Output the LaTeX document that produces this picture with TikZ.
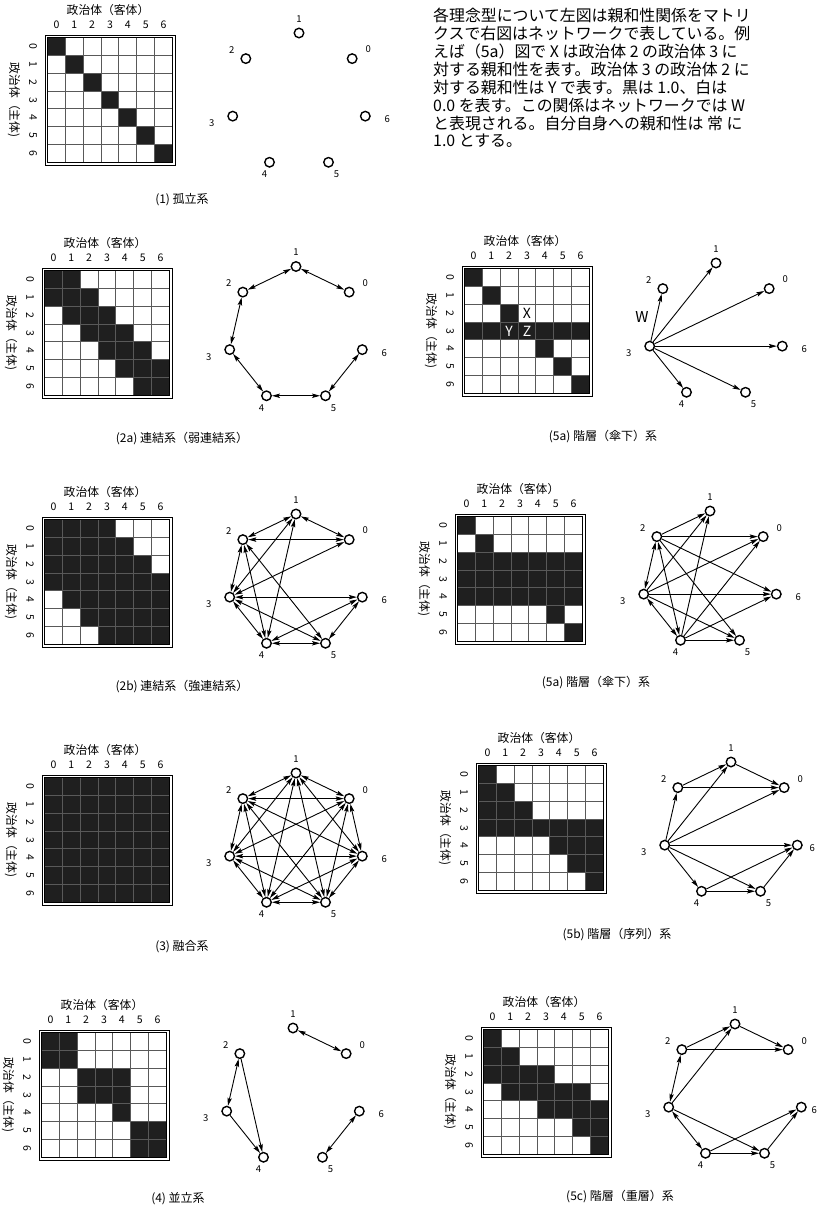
\documentclass[tikz,border=0pt]{standalone}
\usepackage{fontspec}
\setmainfont{Noto Sans CJK JP}
\usetikzlibrary{arrows.meta,calc}
\tikzset{
  vtx/.style={circle,draw,line width=1.4pt,fill=white,minimum size=9.5pt,inner sep=0pt},
  lbl/.style={font=\fontsize{9.5}{11}\selectfont,inner sep=0pt},
  digit/.style={font=\fontsize{10.5}{12}\selectfont,inner sep=0pt},
  mtitle/.style={font=\fontsize{11.8}{13}\selectfont,inner sep=0pt},
  capt/.style={font=\fontsize{12}{14}\selectfont,inner sep=0pt},
  para/.style={font=\fontsize{15.9}{18}\selectfont,inner sep=0pt,anchor=west},
  uni/.style={line width=0.9pt,-{Stealth[length=8pt,width=4.4pt,inset=1.5pt]}},
  bi/.style={line width=0.9pt,{Stealth[length=8pt,width=4.4pt,inset=1.5pt]}-{Stealth[length=8pt,width=4.4pt,inset=1.5pt]}},
  gridline/.style={draw=black!65,line width=1.1pt},
}
\newcommand\affmat[4]{%
  \foreach \rowlist [count=\r from 0] in {#4} {
    \foreach \v [count=\c from 0] in \rowlist {
      \ifnum\v=1
        \fill[black!88] ({#2+2.5+\c*17.857},{#3+2.5+\r*17.857}) rectangle ++(17.857,17.857);
      \fi
    }
  }
  \foreach \i in {1,...,6} {
    \draw[gridline] ({#2+2.5+\i*17.857},{#3+2.5}) -- ++(0,125);
    \draw[gridline] ({#2+2.5},{#3+2.5+\i*17.857}) -- ++(125,0);
  }
  \draw[line width=1.2pt] ({#2+2.5},{#3+2.5}) rectangle ++(125,125);
  \draw[line width=0.7pt] (#2,#3) rectangle ++(130,130);
  \foreach \k in {0,...,6} {
    \node[digit] (#1c\k) at ({#2+2.5+(\k+0.5)*17.857},{#3-10}) {\k};
    \node[digit,rotate=-90] (#1r\k) at ({#2-12},{#3+2.5+(\k+0.5)*17.857}) {\k};
  }
  \node[mtitle] (#1t) at ({#2+63},{#3-25}) {政治体（客体）};
  \node[mtitle,rotate=-90] (#1v) at ({#2-31},{#3+65}) {政治体（主体)};
}
% #1 = x offset of label 6 (optional), #2 prefix, #3 cx, #4 cy, #5 R
\newcommand\hept[5][22]{%
  \foreach \k/\a/\dx/\dy in {1/90/0/-14, 0/38.571/16/-9, 6/-12.857/#1/3, 5/-64.286/8/12, 4/-115.714/-5/12, 3/-167.143/-21/7, 2/141.429/-14/-9} {
    \node[vtx] (#2\k) at ({#3+#5*cos(\a)},{#4-#5*sin(\a)}) {};
    \node[lbl] (#2l\k) at ({#3+#5*cos(\a)+\dx},{#4-#5*sin(\a)+\dy}) {\k};
  }
}
\begin{document}
\begin{tikzpicture}[x=1pt,y=-1pt]
\useasboundingbox (0,0) rectangle (821,1210);
\fill[white] (0,0) rectangle (821,1210);

% ---- text block
\node[para] (t1) at (433,15) {各理念型について左図は親和性関係をマトリ};
\node[para] (t2) at (433,33) {クスで右図はネットワークで表している。例};
\node[para] (t3) at (433,51) {えば（5a）図で X は政治体 2 の政治体 3 に};
\node[para] (t4) at (433,69) {対する親和性を表す。政治体 3 の政治体 2 に};
\node[para] (t5) at (433,87) {対する親和性は Y で表す。黒は 1.0、白は};
\node[para] (t6) at (433,105) {0.0 を表す。この関係はネットワークでは W};
\node[para] (t7) at (433,123) {と表現される。自分自身への親和性は 常 に};
\node[para] (t8) at (433,141) {1.0 とする。};

% ---- (1)
\affmat{am}{45}{35}{{1,0,0,0,0,0,0},{0,1,0,0,0,0,0},{0,0,1,0,0,0,0},{0,0,0,1,0,0,0},{0,0,0,0,1,0,0},{0,0,0,0,0,1,0},{0,0,0,0,0,0,1}}
\hept{a}{299}{101}{68}
\node[capt] (ac) at (182,200) {(1) 孤立系};

% ---- (2a)
\affmat{bm}{42}{268}{{1,1,0,0,0,0,0},{1,1,1,0,0,0,0},{0,1,1,1,0,0,0},{0,0,1,1,1,0,0},{0,0,0,1,1,1,0},{0,0,0,0,1,1,1},{0,0,0,0,0,1,1}}
\hept{b}{296}{334.5}{68}
\foreach \i/\j in {0/1,1/2,2/3,3/4,4/5,5/6} \draw[bi] (b\i) -- (b\j);
\node[capt] (bc) at (182,439) {(2a) 連結系（弱連結系）};

% ---- (5a) top
\affmat{cm}{462}{266}{{1,0,0,0,0,0,0},{0,1,0,0,0,0,0},{0,0,1,0,0,0,0},{1,1,1,1,1,1,1},{0,0,0,0,1,0,0},{0,0,0,0,0,1,0},{0,0,0,0,0,0,1}}
\node[font=\fontsize{14}{15}\selectfont,inner sep=0pt] (cx) at ({464.5+3.5*17.857},{268.5+2.5*17.857}) {X};
\node[font=\fontsize{14}{15}\selectfont,inner sep=0pt,text=white] (cy) at ({464.5+2.5*17.857},{268.5+3.5*17.857}) {Y};
\node[font=\fontsize{14}{15}\selectfont,inner sep=0pt,text=white] (cz) at ({464.5+3.5*17.857},{268.5+3.5*17.857}) {Z};
\hept{c}{716}{331}{68}
\foreach \j in {0,1,2,4,5,6} \draw[uni] (c3) -- (c\j);
\node[font=\fontsize{15}{16}\selectfont,inner sep=0pt] (cw) at (642,317) {W};
\node[capt] (cc) at (603,437) {(5a) 階層（傘下）系};

% ---- (2b)
\affmat{dm}{42}{517}{{1,1,1,1,0,0,0},{1,1,1,1,1,0,0},{1,1,1,1,1,1,0},{1,1,1,1,1,1,1},{0,1,1,1,1,1,1},{0,0,1,1,1,1,1},{0,0,0,1,1,1,1}}
\hept{d}{296}{582}{68}
\foreach \i/\j in {0/1,0/2,0/3,1/2,1/3,1/4,2/3,2/4,2/5,3/4,3/5,3/6,4/5,4/6,5/6} \draw[bi] (d\i) -- (d\j);
\node[capt] (dc) at (182,687) {(2b) 連結系（強連結系）};

% ---- (5a) second
\affmat{em}{455}{514}{{1,0,0,0,0,0,0},{0,1,0,0,0,0,0},{1,1,1,1,1,1,1},{1,1,1,1,1,1,1},{1,1,1,1,1,1,1},{0,0,0,0,0,1,0},{0,0,0,0,0,0,1}}
\hept{e}{710}{579}{68}
\foreach \i/\j in {2/3,2/4,3/4} \draw[bi] (e\i) -- (e\j);
\foreach \i/\j in {2/0,2/1,2/5,2/6,3/0,3/1,3/5,3/6,4/0,4/1,4/5,4/6} \draw[uni] (e\i) -- (e\j);
\node[capt] (ec) at (596,683) {(5a) 階層（傘下）系};

% ---- (3)
\affmat{fm}{42}{775}{{1,1,1,1,1,1,1},{1,1,1,1,1,1,1},{1,1,1,1,1,1,1},{1,1,1,1,1,1,1},{1,1,1,1,1,1,1},{1,1,1,1,1,1,1},{1,1,1,1,1,1,1}}
\hept{f}{296}{841}{68}
\foreach \i/\j in {0/1,0/2,0/3,0/4,0/5,0/6,1/2,1/3,1/4,1/5,1/6,2/3,2/4,2/5,2/6,3/4,3/5,3/6,4/5,4/6,5/6} \draw[bi] (f\i) -- (f\j);
\node[capt] (fc) at (182,947) {(3) 融合系};

% ---- (5b)
\affmat{gm}{476}{763}{{1,0,0,0,0,0,0},{1,1,0,0,0,0,0},{1,1,1,0,0,0,0},{1,1,1,1,1,1,1},{0,0,0,0,1,1,1},{0,0,0,0,0,1,1},{0,0,0,0,0,0,1}}
\hept[15]{g}{731}{830}{68}
\foreach \i/\j in {1/0,2/0,2/1,3/0,3/1,3/2,3/4,3/5,3/6,4/5,4/6,5/6} \draw[uni] (g\i) -- (g\j);
\node[capt] (gc) at (617,935) {(5b) 階層（序列）系};

% ---- (4)
\affmat{hm}{39}{1030}{{1,1,0,0,0,0,0},{1,1,0,0,0,0,0},{0,0,1,1,1,0,0},{0,0,1,1,1,0,0},{0,0,0,0,1,0,0},{0,0,0,0,0,1,1},{0,0,0,0,0,1,1}}
\hept{h}{293}{1096}{68}
\foreach \i/\j in {0/1,2/3,5/6} \draw[bi] (h\i) -- (h\j);
\foreach \i/\j in {2/4,3/4} \draw[uni] (h\i) -- (h\j);
\node[capt] (hc) at (178,1199) {(4) 並立系};

% ---- (5c)
\affmat{im}{481}{1027}{{1,0,0,0,0,0,0},{1,1,0,0,0,0,0},{1,1,1,1,0,0,0},{0,1,1,1,1,1,0},{0,0,0,1,1,1,1},{0,0,0,0,0,1,1},{0,0,0,0,0,0,1}}
\hept[13]{i}{735}{1092}{68}
\foreach \i/\j in {2/3,3/4} \draw[bi] (i\i) -- (i\j);
\foreach \i/\j in {1/0,2/0,2/1,3/1,3/5,4/5,4/6,5/6} \draw[uni] (i\i) -- (i\j);
\node[capt] (ic) at (620,1197) {(5c) 階層（重層）系};
\end{tikzpicture}
\end{document}
